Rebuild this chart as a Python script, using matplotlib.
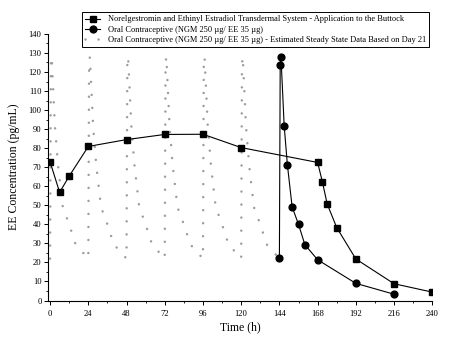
import matplotlib
matplotlib.use("Agg")
import matplotlib.pyplot as plt
from matplotlib.ticker import MultipleLocator

# --- data ---
# Transdermal system (squares)
patch_t = [0, 6, 12, 24, 48, 72, 96, 120, 168, 171, 174, 180, 192, 216, 240]
patch_c = [72.8, 56.8, 65.3, 80.9, 84.5, 87.2, 87.3, 80.3, 72.5, 62.3, 50.7, 38.3, 21.8, 8.8, 4.4]

# Oral contraceptive, day 21 (circles)
oc_t = [144, 144.5, 145, 147, 149, 152, 156, 160, 168, 192, 216]
oc_c = [22.3, 123.7, 127.7, 91.7, 71.4, 49.1, 40.0, 29.3, 21.4, 9.0, 3.3]

# Estimated steady state (gray dotted), days 1-6
ss_t = [0, 0.5, 1, 3, 5, 8, 12, 16,
        24, 24.5, 25, 27, 29, 32, 36, 40,
        48, 48.5, 49, 51, 53, 56, 60, 64,
        72, 72.5, 73, 75, 77, 80, 84, 88,
        96, 96.5, 97, 99, 101, 104, 108, 112,
        120, 120.5, 121, 123, 125, 128, 132, 136, 144]
ss_c = [22, 124, 128, 92, 71, 49, 40, 29.5,
        22, 124, 128, 92, 71, 49, 40, 29.5,
        22, 124, 128, 92, 71, 49, 40, 29.5,
        22, 124, 128, 92, 71, 49, 40, 29.5,
        22, 124, 128, 92, 71, 49, 40, 29.5,
        22, 124, 128, 92, 71, 49, 40, 29.5, 22]

x_ticks = [0, 24, 48, 72, 96, 120, 144, 168, 192, 216, 240]

labels = [
    "Norelgestromin and Ethinyl Estradiol Transdermal System - Application to the Buttock",
    "Oral Contraceptive (NGM 250 \u00b5g/ EE 35 \u00b5g)",
    "Oral Contraceptive (NGM 250 \u00b5g/ EE 35 \u00b5g) - Estimated Steady State Data Based on Day 21",
]

plt.rcParams["font.family"] = ["Liberation Serif", "DejaVu Serif"]

fig = plt.figure(figsize=(4.51, 3.46), dpi=100)
ax = fig.add_axes([0.1075, 0.1315, 0.851, 0.7705])

ax.plot(patch_t, patch_c, color="black", linewidth=0.8, marker="s",
        markersize=4.2, label=labels[0], zorder=4)
ax.plot(oc_t, oc_c, color="black", linewidth=0.8, marker="o",
        markersize=4.9, label=labels[1], zorder=4)
ax.plot(ss_t, ss_c, color="#9c9c9c", linewidth=1.8, linestyle=(0, (0.01, 5.2)),
        dash_capstyle="round", label=labels[2], zorder=3)

ax.set_xlim(-1, 240)
ax.set_ylim(0, 140)
ax.set_xticks(x_ticks)
ax.xaxis.set_minor_locator(MultipleLocator(12))
ax.yaxis.set_major_locator(MultipleLocator(10))
ax.yaxis.set_minor_locator(MultipleLocator(5))

for side in ["top", "right"]:
    ax.spines[side].set_visible(False)
for side in ["left", "bottom"]:
    ax.spines[side].set_linewidth(0.8)

ax.tick_params(axis="both", which="major", direction="out", length=3,
               width=0.7, labelsize=6.2, pad=2)
ax.tick_params(axis="both", which="minor", direction="out", length=1.6, width=0.6)
ax.tick_params(axis="x", which="major", pad=4)

ax.set_xlabel("Time (h)", fontsize=8.5, labelpad=2)
ax.set_ylabel("EE Concentration (pg/mL)", fontsize=8.5, labelpad=6)

leg = fig.legend(loc="upper left", bbox_to_anchor=(0.181, 0.965),
                 fontsize=6.05, frameon=True, fancybox=False, framealpha=1,
                 edgecolor="black", handlelength=1.8, handletextpad=0.9,
                 borderpad=0.4, labelspacing=0.25, borderaxespad=0)
leg.get_frame().set_linewidth(0.7)

fig.savefig("out.png", dpi=100)
